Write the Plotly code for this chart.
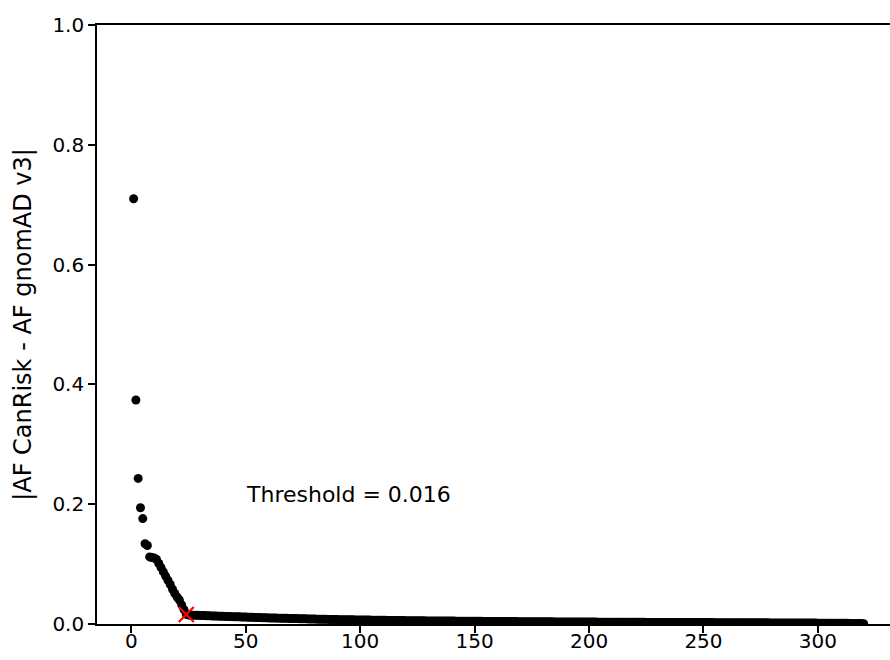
import plotly.graph_objects as go

# Sorted absolute allele-frequency differences (index 1..320)
head_values = [
    0.710, 0.374, 0.243, 0.194, 0.176, 0.134, 0.131, 0.112, 0.111, 0.110,
    0.108, 0.101, 0.094, 0.087, 0.080, 0.073, 0.066, 0.058, 0.051, 0.045,
    0.040, 0.032, 0.024, 0.016,
]
tail_values = [
    0.0151, 0.0149, 0.0147, 0.0146, 0.0144, 0.0143, 0.0141, 0.0140, 0.0138, 0.0137,
    0.0135, 0.0134, 0.0132, 0.0131, 0.0129, 0.0128, 0.0127, 0.0125, 0.0124, 0.0123,
    0.0121, 0.0120, 0.0119, 0.0117, 0.0116, 0.0115, 0.0113, 0.0112, 0.0111, 0.0110,
    0.0108, 0.0107, 0.0106, 0.0105, 0.0103, 0.0102, 0.0101, 0.0100, 0.0099, 0.0098,
    0.0097, 0.0096, 0.0095, 0.0094, 0.0093, 0.0092, 0.0091, 0.0090, 0.0089, 0.0088,
    0.0087, 0.0086, 0.0085, 0.0084, 0.0083, 0.0082, 0.0081, 0.0080, 0.0080, 0.0079,
    0.0078, 0.0077, 0.0076, 0.0076, 0.0075, 0.0074, 0.0073, 0.0073, 0.0072, 0.0071,
    0.0070, 0.0070, 0.0069, 0.0068, 0.0068, 0.0067, 0.0066, 0.0066, 0.0065, 0.0065,
    0.0064, 0.0063, 0.0063, 0.0062, 0.0062, 0.0061, 0.0061, 0.0060, 0.0060, 0.0059,
    0.0059, 0.0058, 0.0058, 0.0057, 0.0057, 0.0056, 0.0056, 0.0055, 0.0055, 0.0054,
    0.0054, 0.0054, 0.0053, 0.0053, 0.0052, 0.0052, 0.0052, 0.0051, 0.0051, 0.0050,
    0.0050, 0.0050, 0.0049, 0.0049, 0.0048, 0.0048, 0.0048, 0.0047, 0.0047, 0.0047,
    0.0046, 0.0046, 0.0046, 0.0045, 0.0045, 0.0045, 0.0044, 0.0044, 0.0044, 0.0043,
    0.0043, 0.0043, 0.0043, 0.0042, 0.0042, 0.0042, 0.0041, 0.0041, 0.0041, 0.0041,
    0.0040, 0.0040, 0.0040, 0.0040, 0.0039, 0.0039, 0.0039, 0.0039, 0.0038, 0.0038,
    0.0038, 0.0038, 0.0037, 0.0037, 0.0037, 0.0037, 0.0036, 0.0036, 0.0036, 0.0036,
    0.0035, 0.0035, 0.0035, 0.0035, 0.0035, 0.0034, 0.0034, 0.0034, 0.0034, 0.0033,
    0.0033, 0.0033, 0.0033, 0.0033, 0.0032, 0.0032, 0.0032, 0.0032, 0.0032, 0.0031,
    0.0031, 0.0031, 0.0031, 0.0031, 0.0030, 0.0030, 0.0030, 0.0030, 0.0030, 0.0029,
    0.0029, 0.0029, 0.0029, 0.0029, 0.0029, 0.0028, 0.0028, 0.0028, 0.0028, 0.0028,
    0.0027, 0.0027, 0.0027, 0.0027, 0.0027, 0.0027, 0.0026, 0.0026, 0.0026, 0.0026,
    0.0026, 0.0026, 0.0025, 0.0025, 0.0025, 0.0025, 0.0025, 0.0025, 0.0024, 0.0024,
    0.0024, 0.0024, 0.0024, 0.0024, 0.0023, 0.0023, 0.0023, 0.0023, 0.0023, 0.0023,
    0.0022, 0.0022, 0.0022, 0.0022, 0.0022, 0.0022, 0.0021, 0.0021, 0.0021, 0.0021,
    0.0021, 0.0021, 0.0020, 0.0020, 0.0020, 0.0020, 0.0020, 0.0020, 0.0019, 0.0019,
    0.0019, 0.0019, 0.0019, 0.0019, 0.0018, 0.0018, 0.0018, 0.0018, 0.0018, 0.0018,
    0.0017, 0.0017, 0.0017, 0.0017, 0.0017, 0.0016, 0.0016, 0.0016, 0.0016, 0.0016,
    0.0015, 0.0015, 0.0015, 0.0015, 0.0015, 0.0014, 0.0014, 0.0014, 0.0014, 0.0013,
    0.0013, 0.0013, 0.0013, 0.0012, 0.0012, 0.0012, 0.0011, 0.0011, 0.0011, 0.0010,
    0.0010, 0.0009, 0.0009, 0.0008, 0.0007, 0.0006,
]
values = head_values + tail_values
indices = list(range(1, len(values) + 1))

threshold_index = 24
threshold_value = 0.016
threshold_label = "Threshold = 0.016"
label_x = 50
label_y = 0.2

x_ticks = [0, 50, 100, 150, 200, 250, 300]
y_ticks = [0.0, 0.2, 0.4, 0.6, 0.8, 1.0]
y_title = "|AF CanRisk - AF gnomAD v3|"

fig = go.Figure()
fig.add_trace(go.Scatter(
    x=indices, y=values, mode="markers",
    marker=dict(color="black", size=9, line=dict(width=0)),
    showlegend=False, hoverinfo="skip",
))
fig.add_trace(go.Scatter(
    x=[threshold_index], y=[threshold_value], mode="markers",
    marker=dict(symbol="x-thin", size=15, line=dict(color="red", width=2.2), color="red"),
    showlegend=False, hoverinfo="skip",
))

fig.add_annotation(
    x=label_x, y=label_y, text=threshold_label, showarrow=False,
    xanchor="left", yanchor="bottom", yshift=-5, xshift=-2,
    font=dict(size=22, color="black", family="DejaVu Sans"),
)

fig.update_layout(
    width=890, height=660,
    margin=dict(l=97, r=0, t=25, b=36),
    paper_bgcolor="white", plot_bgcolor="white",
    font=dict(family="DejaVu Sans", size=20, color="black"),
)
fig.update_xaxes(
    range=[-15, 331.5], tickvals=x_ticks, ticks="outside", ticklen=7, tickwidth=1.6,
    tickcolor="black", showline=True, linecolor="black", linewidth=1.6, mirror=True,
    showgrid=False, zeroline=False, ticklabelstandoff=-9,
)
fig.update_yaxes(
    range=[0, 1.0], tickvals=y_ticks, tickformat=".1f", ticks="outside", ticklen=7,
    tickwidth=1.6, tickcolor="black", showline=True, linecolor="black", linewidth=1.6,
    showgrid=False, zeroline=False,
    title=dict(text=y_title, standoff=14),
)

fig.write_html(
    "out.html",
    config={"displayModeBar": False},
    post_script="document.body.style.margin='0px';document.body.style.overflow='hidden';",
)
